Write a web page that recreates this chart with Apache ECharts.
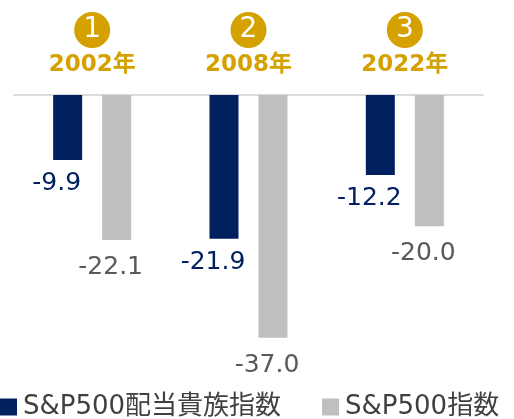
<!DOCTYPE html>
<html>
<head>
<meta charset="utf-8">
<script src="https://cdn.jsdelivr.net/npm/echarts@6/dist/echarts.min.js"></script>
<style>
html,body{margin:0;padding:0;background:#fff;}
#chart{width:514px;height:419px;}
</style>
</head>
<body>
<div id="chart"></div>
<script>
const categories = ['2002年', '2008年', '2022年'];
const markers = ['1', '2', '3'];
const seriesNames = ['S&P500配当貴族指数', 'S&P500指数'];
const aristocrats = [-9.9, -21.9, -12.2];
const sp500 = [-22.1, -37.0, -20.0];

const GOLD = '#D5A100';
const NAVY = '#002060';
const GRAY = '#BFBFBF';
const FONT = '"DejaVu Sans", "Noto Sans CJK JP", sans-serif';

const chart = echarts.init(document.getElementById('chart'));
chart.setOption({
  animation: false,
  textStyle: { fontFamily: FONT },
  grid: { left: 14, right: 31, top: 95, height: 262.4, containLabel: false },
  legend: {
    left: 0,
    top: 394,
    padding: 0,
    itemWidth: 17,
    itemHeight: 17,
    itemGap: 41,
    icon: 'rect',
    textStyle: { fontSize: 26, color: '#404040', fontFamily: FONT, padding: [0, 0, 0, 1] },
    data: seriesNames
  },
  xAxis: {
    type: 'category',
    position: 'top',
    data: categories,
    axisLine: { show: true, lineStyle: { color: '#D0D0D0', width: 1.5 } },
    axisTick: { show: false },
    axisLabel: {
      margin: 13,
      interval: 0,
      formatter: function (v, i) {
        return '{c|' + markers[i] + '}\n{y|' + v + '}';
      },
      rich: {
        c: {
          width: 36, height: 36, lineHeight: 36,
          borderRadius: 18, backgroundColor: GOLD,
          color: '#fff', fontSize: 28, align: 'center', fontFamily: FONT
        },
        y: {
          fontSize: 23, fontWeight: 'bold', color: GOLD,
          lineHeight: 34, align: 'center', fontFamily: FONT
        }
      }
    }
  },
  yAxis: {
    type: 'value',
    min: -40,
    max: 0,
    show: false,
    splitLine: { show: false }
  },
  series: [
    {
      name: seriesNames[0],
      type: 'bar',
      data: aristocrats,
      barWidth: 29,
      barGap: '69%',
      itemStyle: { color: NAVY },
      label: {
        show: true,
        position: 'bottom',
        distance: 11,
        offset: [-11, 0],
        fontSize: 25,
        color: NAVY,
        fontFamily: FONT,
        formatter: p => p.value.toFixed(1)
      }
    },
    {
      name: seriesNames[1],
      type: 'bar',
      data: sp500,
      barWidth: 29,
      barGap: '69%',
      itemStyle: { color: GRAY },
      label: {
        show: true,
        position: 'bottom',
        distance: 15,
        offset: [-6, 0],
        fontSize: 25,
        color: '#595959',
        fontFamily: FONT,
        formatter: p => p.value.toFixed(1)
      }
    }
  ]
});
</script>
</body>
</html>
